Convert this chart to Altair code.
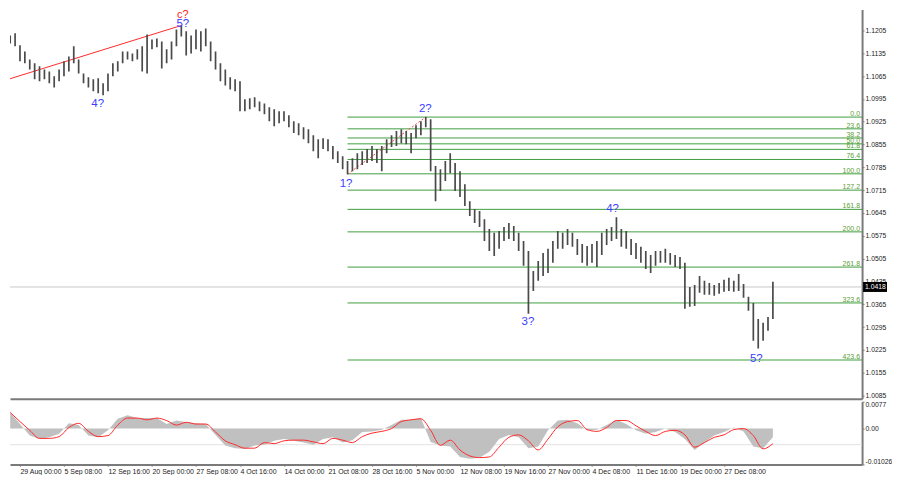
import altair as alt
import pandas as pd

# ---------------- data ----------------
bar_index = list(range(-3, 155))
bar_high = [
    1.1183, 1.1189, 1.1196, 1.1159, 1.1140, 1.1116, 1.1104, 1.1095, 1.1085, 1.1079,
    1.1064, 1.1085, 1.1110, 1.1125, 1.1156, 1.1116, 1.1073, 1.1061, 1.1055, 1.1058,
    1.1043, 1.1073, 1.1104, 1.1110, 1.1140, 1.1140, 1.1134, 1.1147, 1.1156, 1.1192,
    1.1177, 1.1180, 1.1171, 1.1147, 1.1171, 1.1208, 1.1220, 1.1202, 1.1189, 1.1208,
    1.1202, 1.1211, 1.1171, 1.1140, 1.1104, 1.1085, 1.1061, 1.1055, 1.1049, 1.0994,
    1.0997, 1.1000, 1.0987, 1.0981, 1.0969, 1.0963, 1.0957, 1.0957, 1.0945, 1.0926,
    1.0920, 1.0908, 1.0902, 1.0883, 1.0871, 1.0874, 1.0871, 1.0850, 1.0834, 1.0819,
    1.0804, 1.0813, 1.0828, 1.0834, 1.0841, 1.0850, 1.0841, 1.0850, 1.0871, 1.0883,
    1.0896, 1.0902, 1.0896, 1.0890, 1.0914, 1.0926, 1.0939, 1.0932, 1.0789, 1.0779,
    1.0804, 1.0828, 1.0798, 1.0773, 1.0733, 1.0681, 1.0657, 1.0651, 1.0626, 1.0596,
    1.0584, 1.0590, 1.0602, 1.0614, 1.0605, 1.0584, 1.0559, 1.0528, 1.0467, 1.0498,
    1.0522, 1.0535, 1.0559, 1.0590, 1.0584, 1.0596, 1.0584, 1.0565, 1.0550, 1.0544,
    1.0550, 1.0559, 1.0584, 1.0596, 1.0602, 1.0632, 1.0596, 1.0590, 1.0565, 1.0553,
    1.0541, 1.0528, 1.0516, 1.0528, 1.0528, 1.0535, 1.0522, 1.0516, 1.0510, 1.0492,
    1.0418, 1.0424, 1.0452, 1.0437, 1.0430, 1.0424, 1.0430, 1.0440, 1.0446, 1.0437,
    1.0458, 1.0427, 1.0388, 1.0369, 1.0320, 1.0308, 1.0326, 1.0434,
]
bar_low = [
    1.1159, 1.1165, 1.1156, 1.1110, 1.1104, 1.1085, 1.1055, 1.1049, 1.1055, 1.1043,
    1.1030, 1.1049, 1.1064, 1.1079, 1.1104, 1.1073, 1.1043, 1.1030, 1.1018, 1.1012,
    1.1006, 1.1018, 1.1064, 1.1079, 1.1104, 1.1116, 1.1110, 1.1116, 1.1079, 1.1073,
    1.1147, 1.1153, 1.1088, 1.1104, 1.1116, 1.1156, 1.1186, 1.1128, 1.1134, 1.1147,
    1.1140, 1.1156, 1.1110, 1.1085, 1.1049, 1.1036, 1.1024, 1.1018, 1.0957, 1.0957,
    1.0963, 1.0969, 1.0957, 1.0948, 1.0926, 1.0911, 1.0920, 1.0926, 1.0908, 1.0890,
    1.0883, 1.0871, 1.0859, 1.0834, 1.0813, 1.0841, 1.0834, 1.0810, 1.0798, 1.0779,
    1.0764, 1.0773, 1.0779, 1.0792, 1.0798, 1.0804, 1.0798, 1.0773, 1.0828, 1.0847,
    1.0850, 1.0859, 1.0856, 1.0828, 1.0874, 1.0883, 1.0908, 1.0773, 1.0681, 1.0712,
    1.0743, 1.0767, 1.0712, 1.0694, 1.0666, 1.0636, 1.0614, 1.0602, 1.0559, 1.0528,
    1.0513, 1.0535, 1.0559, 1.0565, 1.0559, 1.0528, 1.0483, 1.0336, 1.0406, 1.0437,
    1.0452, 1.0461, 1.0492, 1.0535, 1.0535, 1.0547, 1.0541, 1.0516, 1.0492, 1.0483,
    1.0492, 1.0479, 1.0516, 1.0547, 1.0559, 1.0565, 1.0541, 1.0535, 1.0516, 1.0504,
    1.0492, 1.0473, 1.0461, 1.0483, 1.0492, 1.0492, 1.0486, 1.0479, 1.0473, 1.0351,
    1.0357, 1.0360, 1.0400, 1.0394, 1.0394, 1.0391, 1.0397, 1.0403, 1.0406, 1.0403,
    1.0406, 1.0385, 1.0345, 1.0253, 1.0229, 1.0253, 1.0284, 1.0320,
]
current_price = 1.0418

price_ticks = [1.0085, 1.0155, 1.0225, 1.0295, 1.0365, 1.0435, 1.0505, 1.0575,
               1.0645, 1.0715, 1.0785, 1.0855, 1.0925, 1.0995, 1.1065, 1.1135, 1.1205]

fib_labels = ["0.0", "23.6", "38.2", "50.0", "61.8", "76.4", "100.0", "127.2",
              "161.8", "200.0", "261.8", "323.6", "423.6"]
fib_prices = [1.0939, 1.0903, 1.0875, 1.0857, 1.0840, 1.0809, 1.0765, 1.0715,
              1.0656, 1.0587, 1.0479, 1.0369, 1.0194]
fib_start_bar = 67

trend_bars = [-3.67, 33]
trend_prices = [1.1049, 1.1220]
dotted_bars = [67, 83]
dotted_prices = [1.0764, 1.0939]

red_wave_text = ["c?"]
red_wave_bar = [33.3]
red_wave_price = [1.1253]
blue_wave_text = ["5?", "4?", "1?", "2?", "3?", "4?", "5?"]
blue_wave_bar = [33.3, 15.9, 66.7, 82.9, 103.9, 121.2, 150.6]
blue_wave_price = [1.1223, 1.0978, 1.0733, 1.0963, 1.0311, 1.0657, 1.0198]

date_tick_bars = [0, 9, 18, 27, 36, 45, 54, 63, 72, 81, 90, 99, 108, 117, 126, 135, 144]
date_labels = ["29 Aug 00:00", "5 Sep 08:00", "12 Sep 16:00", "20 Sep 00:00", "27 Sep 08:00",
               "4 Oct 16:00", "14 Oct 00:00", "21 Oct 08:00", "28 Oct 16:00", "5 Nov 00:00",
               "12 Nov 08:00", "19 Nov 16:00", "27 Nov 00:00", "4 Dec 08:00", "11 Dec 16:00",
               "19 Dec 00:00", "27 Dec 08:00"]

ind_bars = list(range(-2, 155, 2))
macd_main = [
    0.0046, 0.0013, -0.0020, -0.0030, -0.0025, -0.0015, 0.0015, 0.0010, -0.0020, -0.0025,
    -0.0005, 0.0028, 0.0038, 0.0030, 0.0030, 0.0030, 0.0013, 0.0023, 0.0018, 0.0015,
    0.0013, -0.0018, -0.0048, -0.0056, -0.0058, -0.0048, -0.0046, -0.0035, -0.0030, -0.0035,
    -0.0040, -0.0046, -0.0030, -0.0025, -0.0040, -0.0033, -0.0010, -0.0008, -0.0003, 0.0010,
    0.0025, 0.0025, 0.0030, -0.0038, -0.0048, -0.0051, -0.0081, -0.0086, -0.0083, -0.0066,
    -0.0030, -0.0018, -0.0025, -0.0056, -0.0051, -0.0005, 0.0023, 0.0025, 0.0015, -0.0005,
    -0.0003, 0.0010, 0.0025, 0.0013, -0.0005, -0.0015, -0.0010, 0.0000, -0.0010, -0.0030,
    -0.0061, -0.0040, -0.0020, -0.0010, 0.0003, -0.0008, -0.0051, -0.0056, -0.0025,
]
macd_signal = [
    0.0046, 0.0020, -0.0005, -0.0028, -0.0028, -0.0023, 0.0003, 0.0015, -0.0008, -0.0023,
    -0.0020, 0.0010, 0.0030, 0.0030, 0.0025, 0.0030, 0.0023, 0.0010, 0.0018, 0.0013,
    0.0013, -0.0010, -0.0035, -0.0046, -0.0056, -0.0056, -0.0040, -0.0043, -0.0035, -0.0033,
    -0.0033, -0.0038, -0.0043, -0.0028, -0.0033, -0.0040, -0.0023, -0.0013, -0.0008, 0.0000,
    0.0020, 0.0025, 0.0028, -0.0005, -0.0048, -0.0033, -0.0061, -0.0078, -0.0083, -0.0081,
    -0.0053, -0.0025, -0.0018, -0.0035, -0.0061, -0.0030, 0.0005, 0.0020, 0.0023, -0.0003,
    -0.0008, 0.0003, 0.0023, 0.0023, 0.0008, -0.0008, -0.0020, -0.0008, -0.0005, -0.0018,
    -0.0053, -0.0040, -0.0025, -0.0018, -0.0003, 0.0000, -0.0020, -0.0058, -0.0043,
]
macd_current = -0.0046
ind_ticks = [0.0077, 0.0, -0.01026]

# ---------------- styling ----------------
FONT = "Liberation Sans"
AXIS_GRAY = "#7a7a7a"
W = 854
H_MAIN = 390
H_IND = 63
X_DOMAIN = [-2.041, 172.24]

x_scale = alt.Scale(domain=X_DOMAIN, nice=False, zero=False)
y_scale = alt.Scale(domain=[1.00755, 1.12689], nice=False, zero=False)
ind_scale = alt.Scale(domain=[-0.01026, 0.0077], nice=False, zero=False)

main_x_axis = alt.Axis(labels=False, ticks=False, grid=False, domain=True,
                       domainColor=AXIS_GRAY, domainWidth=2, title=None)
main_y_axis = alt.Axis(orient="right", values=price_ticks, format=".4f", grid=False,
                       domain=True, domainColor=AXIS_GRAY, domainWidth=2,
                       tickColor=AXIS_GRAY, tickSize=2, labelFont=FONT, labelFontSize=6.8,
                       labelColor="#222222", labelPadding=1, title=None, labelOverlap=False)


def X(field="bar"):
    return alt.X(f"{field}:Q", scale=x_scale, axis=main_x_axis)


def Y(field="price"):
    return alt.Y(f"{field}:Q", scale=y_scale, axis=main_y_axis)


bars_df = pd.DataFrame({"bar": bar_index, "high": bar_high, "low": bar_low})
fib_df = pd.DataFrame({"label": fib_labels, "price": fib_prices,
                       "start": fib_start_bar, "end": X_DOMAIN[1]})
trend_df = pd.DataFrame({"bar": trend_bars, "price": trend_prices})
dotted_df = pd.DataFrame({"bar": dotted_bars, "price": dotted_prices})
red_df = pd.DataFrame({"bar": red_wave_bar, "price": red_wave_price, "t": red_wave_text})
blue_df = pd.DataFrame({"bar": blue_wave_bar, "price": blue_wave_price, "t": blue_wave_text})
cur_df = pd.DataFrame({"price": [current_price], "t": [f"{current_price:.4f}"]})

cur_line = alt.Chart(cur_df).mark_rule(color="#c8c8c8", strokeWidth=1).encode(y=Y())

fib_lines = alt.Chart(fib_df).mark_rule(color="#3f9f3f", strokeWidth=1).encode(
    x=X("start"), x2="end:Q", y=Y())

fib_text = alt.Chart(fib_df).mark_text(
    align="right", baseline="bottom", dx=-2, dy=0, font=FONT, fontSize=7, color="#5a9e32"
).encode(x=X("end"), y=Y(), text="label:N")

trend = alt.Chart(trend_df).mark_line(color="#ff2a2a", strokeWidth=1, clip=True).encode(
    x=X(), y=Y())

dotted = alt.Chart(dotted_df).mark_line(color="#ff4040", strokeWidth=1,
                                         strokeDash=[2, 2]).encode(x=X(), y=Y())

bars = alt.Chart(bars_df).mark_rule(color="#4a4a4a", strokeWidth=1.7, clip=True).encode(
    x=X(), y=Y("low"), y2="high:Q")

red_text = alt.Chart(red_df).mark_text(font=FONT, fontSize=11, color="#ff2020",
                                       baseline="middle").encode(x=X(), y=Y(), text="t:N")
blue_text = alt.Chart(blue_df).mark_text(font=FONT, fontSize=11.5, color="#3c3cff",
                                         baseline="middle").encode(x=X(), y=Y(), text="t:N")

cur_box = alt.Chart(cur_df).mark_rule(color="#000000", strokeWidth=10).encode(
    y=Y(), x=alt.value(W + 1), x2=alt.value(W + 25))
cur_text = alt.Chart(cur_df).mark_text(color="#ffffff", font=FONT, fontSize=6.8,
                                       align="left", baseline="middle").encode(
    y=Y(), x=alt.value(W + 3), text="t:N")

main = alt.layer(cur_line, fib_lines, fib_text, trend, dotted, bars, red_text, blue_text,
                 cur_box, cur_text).properties(width=W, height=H_MAIN)

# ---------------- indicator ----------------
label_js = "[" + ",".join(f"'{s}'" for s in date_labels) + "]"
ticks_js = "[" + ",".join(str(v) for v in date_tick_bars) + "]"
ind_x_axis = alt.Axis(values=date_tick_bars, labelExpr=f"{label_js}[indexof({ticks_js}, datum.value)]",
                      grid=False, domain=True, domainColor=AXIS_GRAY, domainWidth=2,
                      tickColor="#9a9a9a", tickSize=2, labelAlign="left", labelPadding=1,
                      labelFont=FONT, labelFontSize=7, labelColor="#222222",
                      labelOverlap=False, title=None)
ind_y_axis = alt.Axis(orient="right", values=ind_ticks,
                      labelExpr="datum.value == 0 ? '0.00' : (datum.value > 0 ? '0.0077' : '-0.01026')",
                      grid=False, domain=True, domainColor=AXIS_GRAY, domainWidth=2,
                      tickColor=AXIS_GRAY, tickSize=2, labelFont=FONT, labelFontSize=6.8,
                      labelColor="#222222", labelPadding=1, labelFlush=True, title=None,
                      labelOverlap=False)

ind_df = pd.DataFrame({"bar": ind_bars, "main": macd_main, "signal": macd_signal})
IX = alt.X("bar:Q", scale=x_scale, axis=ind_x_axis)

hist = alt.Chart(ind_df).mark_area(color="#c0c0c0", interpolate="linear").encode(
    x=IX, y=alt.Y("main:Q", scale=ind_scale, axis=ind_y_axis), y2=alt.datum(0))
cur_ind = alt.Chart(pd.DataFrame({"v": [macd_current]})).mark_rule(color="#e2e2e2").encode(
    y=alt.Y("v:Q", scale=ind_scale, axis=ind_y_axis))
sig = alt.Chart(ind_df).mark_line(color="#ff2a2a", strokeWidth=1, interpolate="monotone").encode(
    x=IX, y=alt.Y("signal:Q", scale=ind_scale, axis=ind_y_axis))

ind = alt.layer(cur_ind, hist, sig).properties(width=W, height=H_IND)

chart = alt.vconcat(main, ind, spacing=1, padding=0, background="white").configure_view(
    stroke=None)

chart.save("out.html", embed_options={"renderer": "svg", "actions": False})
